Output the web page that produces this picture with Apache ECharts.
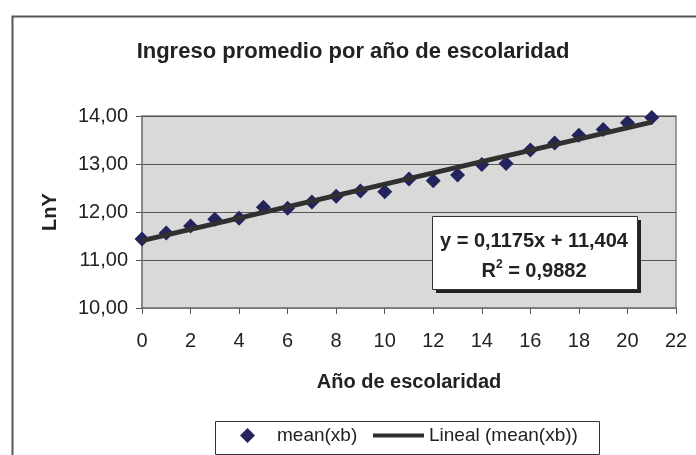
<!DOCTYPE html>
<html>
<head>
<meta charset="utf-8">
<script src="https://cdn.jsdelivr.net/npm/echarts@6/dist/echarts.min.js"></script>
<style>html,body{margin:0;padding:0;background:#fff;}#c{width:696px;height:455px;}</style>
</head>
<body>
<div id="c"></div>
<script>
const titleText = 'Ingreso promedio por año de escolaridad';
const xName = 'Año de escolaridad';
const yName = 'LnY';
const years = [0,1,2,3,4,5,6,7,8,9,10,11,12,13,14,15,16,17,18,19,20,21];
const meanXb = [11.44,11.56,11.71,11.85,11.87,12.10,12.08,12.21,12.33,12.44,12.42,12.69,12.65,12.77,12.99,13.01,13.29,13.44,13.60,13.72,13.86,13.97];
const trendX = [0, 21];
const trendY = [11.404, 13.8715];
const seriesNames = ['mean(xb)', 'Lineal (mean(xb))'];
const eqLine1 = 'y = 0,1175x + 11,404';
const eqLine2 = '0,9882';

const FONT = '"Liberation Sans", Arial, sans-serif';
const chart = echarts.init(document.getElementById('c'));
chart.setOption({
  animation: false,
  backgroundColor: '#ffffff',
  title: {
    text: titleText, left: 348, top: 36, textAlign: 'center',
    textStyle: { fontFamily: FONT, fontSize: 22, fontWeight: 'bold', color: '#222' }
  },
  grid: {
    left: 142, right: 20, top: 116, bottom: 147,
    show: true, backgroundColor: '#d9d9d9', borderColor: '#808080', borderWidth: 1.5
  },
  xAxis: {
    type: 'value', min: 0, max: 22, interval: 2,
    name: xName, nameLocation: 'middle', nameGap: 64,
    nameTextStyle: { fontFamily: FONT, fontSize: 20, fontWeight: 'bold', color: '#222' },
    axisLine: { show: true, lineStyle: { color: '#808080', width: 1.5 } },
    axisTick: { show: true, inside: false, length: 6, lineStyle: { color: '#555' } },
    axisLabel: { fontFamily: FONT, fontSize: 20, color: '#222', margin: 23 },
    splitLine: { show: false }
  },
  yAxis: {
    type: 'value', min: 10, max: 14, interval: 1,
    name: yName, nameLocation: 'middle', nameGap: 82, nameRotate: 90,
    nameTextStyle: { fontFamily: FONT, fontSize: 20, fontWeight: 'bold', color: '#222' },
    axisLine: { show: true, lineStyle: { color: '#808080', width: 1.5 } },
    axisTick: { show: true, inside: false, length: 6, lineStyle: { color: '#555' } },
    axisLabel: { fontFamily: FONT, fontSize: 20, color: '#222', margin: 14,
      formatter: v => v.toFixed(2).replace('.', ',') },
    splitLine: { show: true, lineStyle: { color: '#555', width: 1 } }
  },
  legend: [
    {
      data: [{ name: seriesNames[0], icon: 'diamond' }],
      left: 240, top: 426, itemWidth: 15, itemHeight: 15, padding: 0,
      itemStyle: { opacity: 1 },
      textStyle: { fontFamily: FONT, fontSize: 19, color: '#222', padding: [0, 0, 0, 17] }
    },
    {
      data: [{ name: seriesNames[1], icon: 'rect' }],
      left: 373, top: 426, itemWidth: 51, itemHeight: 4, padding: 0,
      textStyle: { fontFamily: FONT, fontSize: 19, color: '#222' }
    }
  ],
  graphic: [
    { type: 'rect', left: 10, top: 14, shape: { width: 720, height: 480 }, z: -10,
      style: { fill: 'none', stroke: '#555', lineWidth: 2 } },
    { type: 'rect', left: 215, top: 421, shape: { width: 384, height: 33 }, z: -5,
      style: { fill: '#fff', stroke: '#333', lineWidth: 1 } },
    { type: 'rect', left: 436, top: 220, shape: { width: 205, height: 73 }, z: 50,
      style: { fill: '#222' } },
    { type: 'rect', left: 432, top: 216, shape: { width: 205, height: 73 }, z: 51,
      style: { fill: '#fff', stroke: '#333', lineWidth: 1 } },
    { type: 'text', x: 534, y: 241, z: 52,
      style: { text: eqLine1, fill: '#222', font: 'bold 20px ' + FONT, textAlign: 'center', textVerticalAlign: 'middle' } },
    { type: 'text', x: 534, y: 271, z: 52,
      style: { text: '{b|R}{s|2}{b| = ' + eqLine2 + '}', textAlign: 'center', textVerticalAlign: 'middle',
        rich: { b: { font: 'bold 20px ' + FONT, fill: '#222', color: '#222' },
                s: { font: 'bold 12px ' + FONT, fill: '#222', color: '#222', verticalAlign: 'top', padding: [0, 0, 12, 0] } } } }
  ],
  series: [
    {
      name: seriesNames[0], type: 'scatter', symbol: 'diamond', symbolSize: 15,
      itemStyle: { color: '#23245e', opacity: 1 }, z: 3,
      data: years.map((x, i) => [x, meanXb[i]])
    },
    {
      name: seriesNames[1], type: 'line', symbol: 'none', z: 4,
      lineStyle: { color: '#303030', width: 5 }, itemStyle: { color: '#303030' },
      data: trendX.map((x, i) => [x, trendY[i]])
    }
  ]
});
</script>
</body>
</html>
